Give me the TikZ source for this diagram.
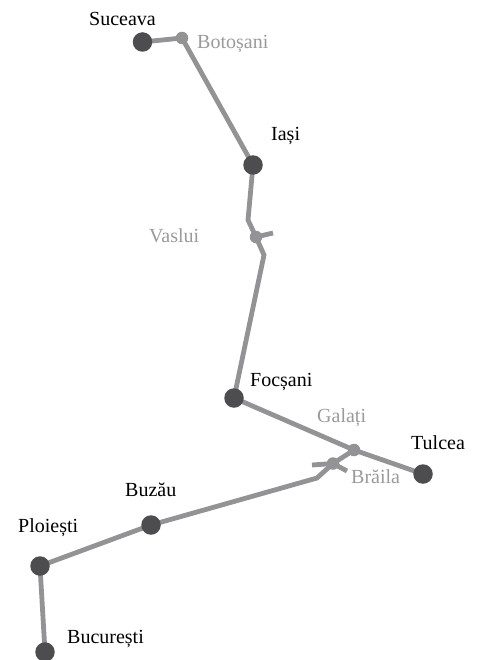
\documentclass[tikz,border=0pt]{standalone}
\usepackage{fontspec}
\setmainfont{Liberation Serif}
\definecolor{rail}{HTML}{939396}
\definecolor{big}{HTML}{4D4D4F}
\definecolor{minor}{HTML}{9A9A9D}
\tikzset{
  major/.style={circle,fill=big,inner sep=0pt,minimum size=19.5pt},
  small/.style={circle,fill=rail,inner sep=0pt,minimum size=12.5pt},
  line/.style={draw=rail,line width=4.8pt,line join=miter},
  lab/.style={font=\fontsize{20}{22}\selectfont,text=black,inner sep=0pt},
  sublab/.style={font=\fontsize{20}{22}\selectfont,text=minor,inner sep=0pt}
}
\begin{document}
\begin{tikzpicture}[x=1pt,y=-1pt]
\useasboundingbox[clip] (0,0) rectangle (476,660);
\coordinate (b1) at (248,220);
\coordinate (b2) at (264,255);
\coordinate (b3) at (317,478);
\coordinate (s1) at (273,233);
\coordinate (s2) at (312,465);
\coordinate (s3) at (347,471);
\coordinate (psuceava) at (142.5,42);
\coordinate (pbotosani) at (182,38);
\coordinate (piasi) at (253,165);
\coordinate (pvaslui) at (256,237);
\coordinate (pfocsani) at (234,398);
\coordinate (pgalati) at (354,450);
\coordinate (ptulcea) at (423,474);
\coordinate (pbraila) at (333,463.5);
\coordinate (pbuzau) at (151,525);
\coordinate (pploiesti) at (40,566);
\coordinate (pbucuresti) at (45,652);
\path[line] (psuceava) -- (pbotosani) -- (piasi) -- (b1) -- (pvaslui) -- (b2) -- (pfocsani) -- (pgalati) -- (ptulcea);
\path[line] (pgalati) -- (pbraila) -- (b3) -- (pbuzau) -- (pploiesti) -- (pbucuresti);
\path[line] (pvaslui) -- (s1);
\path[line] (s2) -- (pbraila) -- (s3);
\node[major] (suceava) at (psuceava) {};
\node[small] (botosani) at (pbotosani) {};
\node[major] (iasi) at (piasi) {};
\node[small] (vaslui) at (pvaslui) {};
\node[major] (focsani) at (pfocsani) {};
\node[small] (galati) at (pgalati) {};
\node[major] (tulcea) at (ptulcea) {};
\node[small] (braila) at (pbraila) {};
\node[major] (buzau) at (pbuzau) {};
\node[major] (ploiesti) at (pploiesti) {};
\node[major] (bucuresti) at (pbucuresti) {};
\node[lab,anchor=base west] (t1) at (89,26) {Suceava};
\node[sublab,anchor=base west] (t2) at (197,49) {Botoșani};
\node[lab,anchor=base west] (t3) at (271,141) {Iași};
\node[sublab,anchor=base west] (t4) at (149,242) {Vaslui};
\node[lab,anchor=base west] (t5) at (250,386) {Focșani};
\node[sublab,anchor=base west] (t6) at (317,422) {Galați};
\node[lab,anchor=base west] (t7) at (411,449) {Tulcea};
\node[sublab,anchor=base west] (t8) at (351,483) {Brăila};
\node[lab,anchor=base west] (t9) at (125,496) {Buzău};
\node[lab,anchor=base west] (t10) at (18,532) {Ploiești};
\node[lab,anchor=base west] (t11) at (67,643) {București};
\end{tikzpicture}
\end{document}
